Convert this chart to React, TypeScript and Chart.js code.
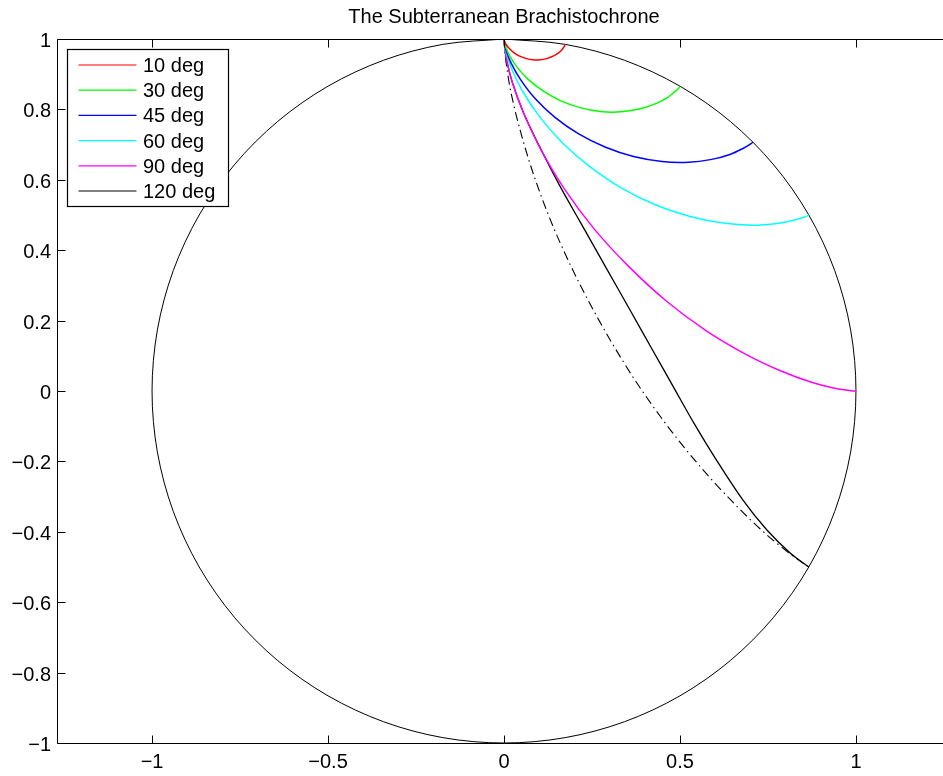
import React, { useEffect, useRef } from 'react';
import { Chart, registerables } from 'chart.js';

Chart.register(...registerables);

// ---------- data ----------
const TITLE = 'The Subterranean Brachistochrone';

const circleX = [0, 0.1736, 0.342, 0.5, 0.6428, 0.766, 0.866, 0.9397, 0.9848, 1, 0.9848, 0.9397, 0.866, 0.766, 0.6428, 0.5, 0.342, 0.1736, 0, -0.1736, -0.342, -0.5, -0.6428, -0.766, -0.866, -0.9397, -0.9848, -1, -0.9848, -0.9397, -0.866, -0.766, -0.6428, -0.5, -0.342, -0.1736, 0];
const circleY = [1, 0.9848, 0.9397, 0.866, 0.766, 0.6428, 0.5, 0.342, 0.1736, 0, -0.1736, -0.342, -0.5, -0.6428, -0.766, -0.866, -0.9397, -0.9848, -1, -0.9848, -0.9397, -0.866, -0.766, -0.6428, -0.5, -0.342, -0.1736, 0, 0.1736, 0.342, 0.5, 0.6428, 0.766, 0.866, 0.9397, 0.9848, 1];

const deg10X = [0, 0.0, 0.002, 0.007, 0.015, 0.027, 0.043, 0.062, 0.082, 0.103, 0.123, 0.141, 0.154, 0.164, 0.17, 0.173, 0.174];
const deg10Y = [1, 0.998, 0.992, 0.983, 0.973, 0.962, 0.952, 0.945, 0.941, 0.941, 0.945, 0.952, 0.96, 0.969, 0.977, 0.983, 0.985];

const deg30X = [0, 0.001, 0.005, 0.016, 0.037, 0.068, 0.11, 0.16, 0.216, 0.274, 0.332, 0.384, 0.428, 0.462, 0.484, 0.497, 0.5];
const deg30Y = [1, 0.994, 0.977, 0.952, 0.92, 0.886, 0.853, 0.825, 0.805, 0.794, 0.793, 0.801, 0.815, 0.832, 0.849, 0.861, 0.866];

const deg45X = [0, 0.001, 0.006, 0.021, 0.048, 0.089, 0.144, 0.211, 0.287, 0.368, 0.449, 0.524, 0.59, 0.642, 0.679, 0.701, 0.707];
const deg45Y = [1, 0.992, 0.967, 0.93, 0.883, 0.83, 0.778, 0.731, 0.693, 0.666, 0.652, 0.65, 0.658, 0.672, 0.689, 0.702, 0.707];

const deg60X = [0, 0.001, 0.007, 0.024, 0.055, 0.102, 0.165, 0.243, 0.333, 0.43, 0.529, 0.623, 0.707, 0.776, 0.826, 0.856, 0.866];
const deg60Y = [1, 0.989, 0.958, 0.91, 0.848, 0.778, 0.706, 0.638, 0.577, 0.529, 0.496, 0.477, 0.471, 0.476, 0.486, 0.495, 0.5];

const deg90X = [0, 0.001, 0.007, 0.024, 0.056, 0.105, 0.171, 0.255, 0.354, 0.462, 0.575, 0.686, 0.789, 0.876, 0.943, 0.986, 1];
const deg90Y = [1, 0.986, 0.943, 0.876, 0.789, 0.686, 0.575, 0.462, 0.354, 0.255, 0.171, 0.105, 0.056, 0.024, 0.007, 0.001, 0];

const deg120X = [0, 0.001, 0.007, 0.024, 0.056, 0.105, 0.159, 0.216, 0.293, 0.358, 0.42, 0.48, 0.54, 0.606, 0.679, 0.747, 0.813, 0.866];
const deg120Y = [1, 0.986, 0.943, 0.876, 0.789, 0.686, 0.582, 0.481, 0.345, 0.23, 0.12, 0.014, -0.092, -0.2, -0.31, -0.395, -0.46, -0.5];

const deg120dashX = [0, 0.001, 0.006, 0.019, 0.045, 0.084, 0.138, 0.207, 0.289, 0.38, 0.477, 0.575, 0.667, 0.747, 0.811, 0.852, 0.866];
const deg120dashY = [1, 0.983, 0.933, 0.852, 0.744, 0.615, 0.471, 0.32, 0.167, 0.019, -0.116, -0.235, -0.333, -0.409, -0.461, -0.491, -0.5];

const seriesLabels = ['10 deg', '30 deg', '45 deg', '60 deg', '90 deg', '120 deg'];
const seriesColors = ['#ff0000', '#00ff00', '#0000ff', '#00ffff', '#ff00ff', '#000000'];

const xTickValues = [-1, -0.5, 0, 0.5, 1];
const xTickLabels = ['\u22121', '\u22120.5', '0', '0.5', '1'];
const yTickValues = [-1, -0.8, -0.6, -0.4, -0.2, 0, 0.2, 0.4, 0.6, 0.8, 1];
const yTickLabels = ['\u22121', '\u22120.8', '\u22120.6', '\u22120.4', '\u22120.2', '0', '0.2', '0.4', '0.6', '0.8', '1'];

const X_MIN = -1.27;
const X_MAX = 1.27;
const Y_MIN = -1;
const Y_MAX = 1;

// ---------- helpers ----------
const zip = (xs: number[], ys: number[]) => xs.map((x, i) => ({ x, y: ys[i] }));
const FONT = '20px "Liberation Sans", Arial, Helvetica, sans-serif';

const axesPlugin = {
  id: 'matlabAxes',
  afterDraw(chart: any) {
    const { ctx, chartArea: a, scales } = chart;
    const xs = scales.x;
    const ys = scales.y;
    ctx.save();
    ctx.strokeStyle = '#000';
    ctx.lineWidth = 1;
    const L = Math.round(a.left) + 0.5;
    const R = Math.round(a.right) + 0.5;
    const T = Math.round(a.top) + 0.5;
    const B = Math.round(a.bottom) + 0.5;
    ctx.beginPath();
    ctx.rect(L, T, R - L, B - T);
    xTickValues.forEach((v) => {
      const p = Math.round(xs.getPixelForValue(v)) + 0.5;
      ctx.moveTo(p, B);
      ctx.lineTo(p, B - 8);
      ctx.moveTo(p, T);
      ctx.lineTo(p, T + 8);
    });
    yTickValues.forEach((v) => {
      const p = Math.round(ys.getPixelForValue(v)) + 0.5;
      ctx.moveTo(L, p);
      ctx.lineTo(L + 8, p);
      ctx.moveTo(R, p);
      ctx.lineTo(R - 8, p);
    });
    ctx.stroke();

    ctx.fillStyle = '#000';
    ctx.font = FONT;
    ctx.textBaseline = 'alphabetic';
    ctx.textAlign = 'center';
    xTickValues.forEach((v, i) => {
      ctx.fillText(xTickLabels[i], xs.getPixelForValue(v), a.bottom + 25);
    });
    ctx.textAlign = 'right';
    yTickValues.forEach((v, i) => {
      ctx.fillText(yTickLabels[i], a.left - 6, ys.getPixelForValue(v) + 8);
    });

    // title
    ctx.textAlign = 'center';
    ctx.fillText(TITLE, (a.left + a.right) / 2, a.top - 16);

    // legend
    const lx = Math.round(a.left) + 10.5;
    const ly = Math.round(a.top) + 10.5;
    const lw = 161;
    const lh = 157;
    ctx.fillStyle = '#fff';
    ctx.fillRect(lx, ly, lw, lh);
    ctx.strokeStyle = '#000';
    ctx.lineWidth = 1.2;
    ctx.strokeRect(lx, ly, lw, lh);
    ctx.textAlign = 'left';
    seriesLabels.forEach((lab, i) => {
      const cy = ly + 15.5 + i * 25.2;
      ctx.strokeStyle = seriesColors[i];
      ctx.lineWidth = 1.2;
      ctx.beginPath();
      ctx.moveTo(lx + 11, cy);
      ctx.lineTo(lx + 69, cy);
      ctx.stroke();
      ctx.fillStyle = '#000';
      ctx.fillText(lab, lx + 75.5, cy + 7);
    });
    ctx.restore();
  },
};

export default function App() {
  const canvasRef = useRef<HTMLCanvasElement | null>(null);

  useEffect(() => {
    const canvas = canvasRef.current;
    if (!canvas) return;
    const curveSets = [
      [deg10X, deg10Y],
      [deg30X, deg30Y],
      [deg45X, deg45Y],
      [deg60X, deg60Y],
      [deg90X, deg90Y],
      [deg120X, deg120Y],
    ];
    const datasets: any[] = [];
    curveSets.forEach(([xs, ys], i) => {
      datasets.push({
        label: seriesLabels[i],
        data: zip(xs, ys),
        borderColor: seriesColors[i],
        borderWidth: i === 5 ? 1.3 : 1.5,
        showLine: true,
        pointRadius: 0,
        tension: 0.33,
        fill: false,
        order: 1,
      });
    });
    datasets.push({
      label: '120 deg (analytic)',
      data: zip(deg120dashX, deg120dashY),
      borderColor: '#000',
      borderWidth: 1.1,
      borderDash: [9, 4, 1.5, 4],
      showLine: true,
      pointRadius: 0,
      tension: 0.33,
      fill: false,
      order: 2,
    });
    datasets.push({
      label: 'circle',
      data: zip(circleX, circleY),
      borderColor: '#000',
      borderWidth: 1,
      showLine: true,
      pointRadius: 0,
      tension: 0.33,
      fill: false,
      order: 3,
    });

    const chart = new Chart(canvas, {
      type: 'scatter',
      data: { datasets },
      options: {
        animation: false,
        responsive: false,
        devicePixelRatio: 1,
        events: [],
        layout: { padding: { left: 57, right: 9, top: 39, bottom: 33 } },
        plugins: {
          legend: { display: false },
          title: { display: false },
          tooltip: { enabled: false },
        },
        scales: {
          x: { type: 'linear', min: X_MIN, max: X_MAX, display: false },
          y: { type: 'linear', min: Y_MIN, max: Y_MAX, display: false },
        },
      },
      plugins: [axesPlugin],
    });
    return () => chart.destroy();
  }, []);

  return (
    <div style={{ position: 'fixed', left: 0, top: 0, width: 960, height: 776, background: '#fff' }}>
      <canvas ref={canvasRef} width={960} height={776} style={{ display: 'block', width: 960, height: 776 }} />
    </div>
  );
}
